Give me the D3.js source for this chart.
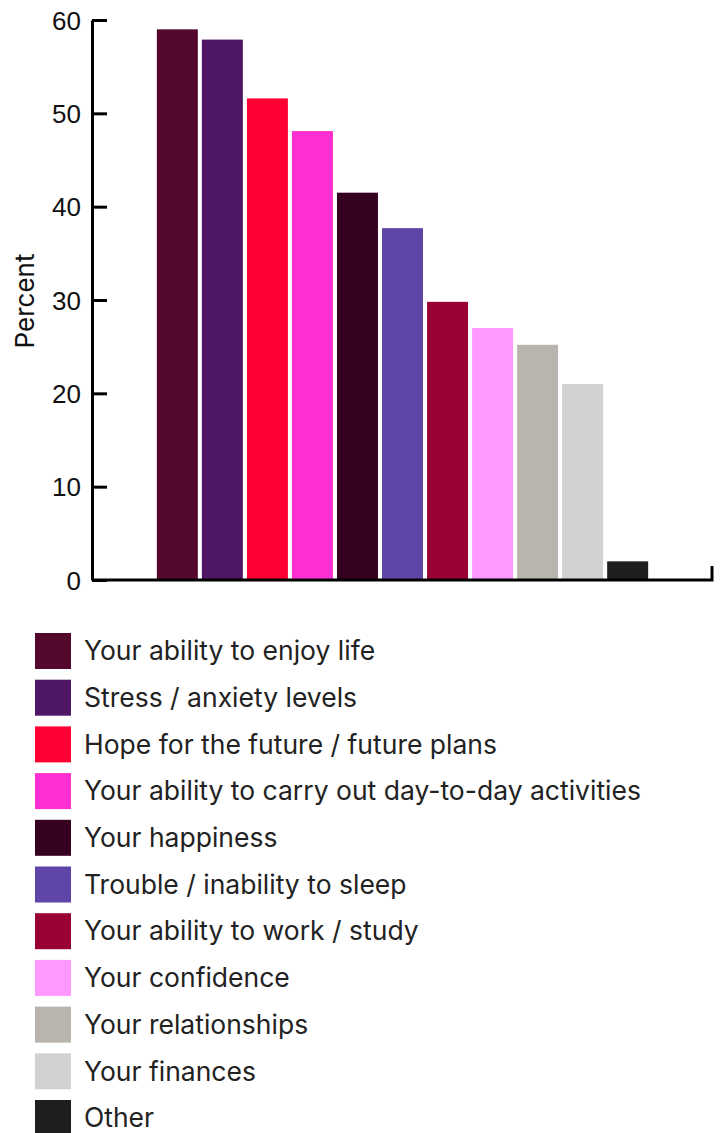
<!DOCTYPE html>
<meta charset="utf-8">
<style>
body { margin: 0; background: #fff; font-family: Inter, "Open Sans", sans-serif; }
.tick text { font-size: 26px; fill: #111; }
.legend text { font-size: 26.5px; fill: #222; }
</style>
<body>
<script src="https://cdn.jsdelivr.net/npm/d3@7"></script>
<script>

// data
var categories = [
  "Your ability to enjoy life",
  "Stress / anxiety levels",
  "Hope for the future / future plans",
  "Your ability to carry out day-to-day activities",
  "Your happiness",
  "Trouble / inability to sleep",
  "Your ability to work / study",
  "Your confidence",
  "Your relationships",
  "Your finances",
  "Other"
];
var percents = [59, 57.9, 51.6, 48.1, 41.5, 37.7, 29.8, 27.0, 25.2, 21.0, 2.0];
var colours = ["#54082e", "#4f1665", "#ff0033", "#ff2fd2", "#360021", "#6045a8",
               "#990033", "#ff99ff", "#b9b4ae", "#d3d2d1", "#1e1e1e"];
var yTicks = [0, 10, 20, 30, 40, 50, 60];

var width = 723, height = 1133;
var svg = d3.select("body").append("svg")
    .attr("width", width)
    .attr("height", height);

// plot area
var plotLeft = 92, plotRight = 713, plotTop = 20, plotBottom = 580;

var x = d3.scaleBand()
    .domain(categories)
    .range([plotLeft, plotRight])
    .paddingInner(0.09)
    .paddingOuter(1.44);
var y = d3.scaleLinear()
    .domain([0, 60])
    .range([plotBottom, plotTop]);

// bars
svg.selectAll(".bar")
    .data(categories)
  .enter().append("rect")
    .attr("class", "bar")
    .attr("x", function(d) { return x(d); })
    .attr("width", x.bandwidth())
    .attr("y", function(d, i) { return y(percents[i]); })
    .attr("height", function(d, i) { return plotBottom - y(percents[i]); })
    .attr("fill", function(d, i) { return colours[i]; });

// y axis, ticks pointing inward
var yAxis = svg.append("g")
    .attr("transform", "translate(" + plotLeft + ",0)")
    .call(d3.axisRight(y).tickValues(yTicks).tickSize(15).tickSizeOuter(0));
yAxis.select(".domain").attr("stroke", "#000").attr("stroke-width", 3);
yAxis.selectAll(".tick line").attr("stroke", "#000").attr("stroke-width", 3);
yAxis.selectAll(".tick text")
    .attr("x", -11)
    .attr("text-anchor", "end")
    .attr("dy", "0.35em");

// x axis line with small end tick
var xAxis = svg.append("g")
    .attr("transform", "translate(0," + plotBottom + ")")
    .call(d3.axisBottom(x).tickValues([]).tickSizeOuter(-14));
xAxis.select(".domain").attr("stroke", "#000").attr("stroke-width", 3)
    .attr("d", "M" + plotLeft + ",0H" + (plotRight - 1) + "V-14");

// y axis title
svg.append("text")
    .attr("transform", "translate(34," + ((plotTop + plotBottom) / 2 + 1) + ") rotate(-90)")
    .attr("text-anchor", "middle")
    .style("font-size", "26px")
    .style("fill", "#111")
    .text("Percent");

// legend
var legend = svg.append("g").attr("class", "legend");
var row = legend.selectAll("g")
    .data(categories)
  .enter().append("g")
    .attr("transform", function(d, i) { return "translate(35," + (633 + i * 46.7) + ")"; });
row.append("rect")
    .attr("width", 36)
    .attr("height", 36)
    .attr("fill", function(d, i) { return colours[i]; });
row.append("text")
    .attr("x", 49)
    .attr("y", 18)
    .attr("dy", "0.35em")
    .text(function(d) { return d; });

</script>
</body>
